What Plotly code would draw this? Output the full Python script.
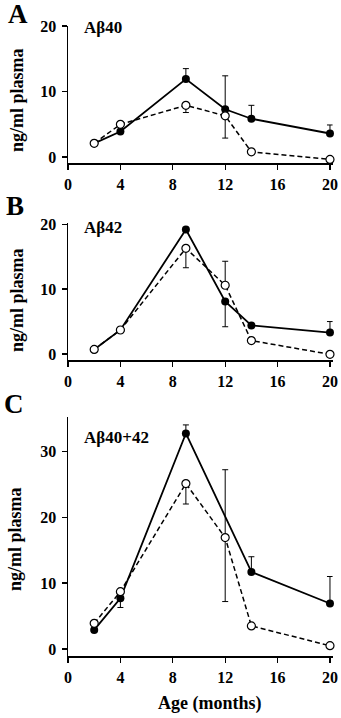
import plotly.graph_objects as go

# ---------------- data ----------------
ages = [2, 4, 9, 12, 14, 20]

# Panel A: Abeta40
a_filled = [2.1, 3.9, 11.9, 7.3, 5.85, 3.6]
a_filled_up = [0, 0, 1.6, 5.1, 2.05, 1.3]
a_filled_dn = [0, 0, 0, 0, 0, 0]
a_open = [2.1, 5.0, 7.9, 6.3, 0.8, -0.35]
a_open_up = [0, 0, 0, 0, 0, 0]
a_open_dn = [0, 0, 1.1, 3.4, 0, 0]

# Panel B: Abeta42
b_filled = [0.7, 3.7, 19.2, 8.1, 4.4, 3.3]
b_filled_up = [0, 0, 0, 0, 0, 1.7]
b_filled_dn = [0, 0, 0, 3.9, 0, 0]
b_open = [0.7, 3.7, 16.3, 10.6, 2.06, -0.05]
b_open_up = [0, 0, 0, 3.7, 0, 0]
b_open_dn = [0, 0, 3.0, 0, 0, 0]

# Panel C: Abeta40+42
c_filled = [2.9, 7.7, 32.7, None, 11.7, 6.9]
c_filled_up = [0, 0, 1.3, 0, 2.3, 4.1]
c_filled_dn = [0, 1.4, 0, 0, 0, 0]
c_open = [3.9, 8.7, 25.1, 16.9, 3.5, 0.5]
c_open_up = [0, 0, 0, 10.3, 0, 0]
c_open_dn = [0, 0, 3.1, 9.7, 0, 0]

x_ticks = [0, 4, 8, 12, 16, 20]
y_ticks_ab = [0, 10, 20]
y_ticks_c = [0, 10, 20, 30]
panel_letters = ["A", "B", "C"]
panel_titles = ["Aβ40", "Aβ42", "Aβ40+42"]
y_title = "ng/ml plasma"
x_title = "Age (months)"

# ---------------- layout helpers ----------------
W, H = 341, 718
FONT = "Liberation Serif"

def px_x(p):
    return p / W

def px_y(p):
    return 1 - p / H

fig = go.Figure()

panels = [
    (a_filled, a_filled_up, a_filled_dn, a_open, a_open_up, a_open_dn),
    (b_filled, b_filled_up, b_filled_dn, b_open, b_open_up, b_open_dn),
    (c_filled, c_filled_up, c_filled_dn, c_open, c_open_up, c_open_dn),
]

for i, (fy, fu, fd, oy, ou, od) in enumerate(panels):
    xa = "x" if i == 0 else f"x{i+1}"
    ya = "y" if i == 0 else f"y{i+1}"
    fig.add_trace(go.Scatter(
        x=ages, y=fy, xaxis=xa, yaxis=ya, mode="lines+markers",
        connectgaps=True,
        line=dict(color="black", width=1.8),
        marker=dict(symbol="circle", size=8, color="black"),
        error_y=dict(type="data", symmetric=False, array=fu, arrayminus=fd,
                     color="black", thickness=1, width=3),
        showlegend=False, cliponaxis=False, hoverinfo="skip",
    ))
    fig.add_trace(go.Scatter(
        x=ages, y=oy, xaxis=xa, yaxis=ya, mode="lines+markers",
        line=dict(color="black", width=1.5, dash="5px,3px"),
        marker=dict(symbol="circle", size=8, color="white",
                    line=dict(color="black", width=1.2)),
        error_y=dict(type="data", symmetric=False, array=ou, arrayminus=od,
                     color="black", thickness=1, width=3),
        showlegend=False, cliponaxis=False, hoverinfo="skip",
    ))

x_dom = [px_x(68), px_x(332.6)]
y_doms = [
    ([px_y(163), px_y(26)], [-0.9, 20], y_ticks_ab),
    ([px_y(360), px_y(223)], [-0.93, 20.2], y_ticks_ab),
    ([px_y(656), px_y(417)], [-1.06, 35.2], y_ticks_c),
]

axis_common = dict(
    showgrid=False, zeroline=False, showline=True, linecolor="black",
    linewidth=1.5, ticks="outside", ticklen=5, tickwidth=1.3,
    tickcolor="black", automargin=False,
    tickfont=dict(family=FONT, size=16, color="black", weight="bold"),
)

layout = dict(
    width=W, height=H, margin=dict(l=0, r=0, t=0, b=0, autoexpand=False),
    paper_bgcolor="white", plot_bgcolor="white",
    font=dict(family=FONT, color="black"),
)

for i, (ydom, yrng, yt) in enumerate(y_doms):
    xk = "xaxis" if i == 0 else f"xaxis{i+1}"
    yk = "yaxis" if i == 0 else f"yaxis{i+1}"
    ya = "y" if i == 0 else f"y{i+1}"
    xa = "x" if i == 0 else f"x{i+1}"
    layout[xk] = dict(axis_common, domain=x_dom, range=[0, 20.2],
                      tickvals=x_ticks, anchor=ya, ticklabelstandoff=1)
    layout[yk] = dict(axis_common, domain=ydom, range=yrng,
                      tickvals=yt, anchor=xa, ticklabelstandoff=2)

fig.update_layout(**layout)

annotations = []
letter_pos = [(17.5, 13.5), (15, 206), (14, 404)]
for letter, (lx, ly) in zip(panel_letters, letter_pos):
    annotations.append(dict(
        text=letter, x=px_x(lx), y=px_y(ly), xref="paper", yref="paper",
        xanchor="center", yanchor="middle", showarrow=False, borderpad=0,
        font=dict(family=FONT, size=27, color="black", weight="bold")))

title_pos = [(82, 28), (82, 228), (82, 437)]
for t, (tx, ty) in zip(panel_titles, title_pos):
    annotations.append(dict(
        text=t, x=px_x(tx), y=px_y(ty), xref="paper", yref="paper",
        xanchor="left", yanchor="middle", showarrow=False,
        font=dict(family=FONT, size=17, color="black", weight="bold")))

ytitle_pos = [(17, 100), (17, 300), (15, 539)]
for (tx, ty) in ytitle_pos:
    annotations.append(dict(
        text=y_title, x=px_x(tx), y=px_y(ty), xref="paper", yref="paper",
        xanchor="center", yanchor="middle", showarrow=False, textangle=-90,
        font=dict(family=FONT, size=18, color="black", weight="bold")))

annotations.append(dict(
    text=x_title, x=px_x(210), y=px_y(703), xref="paper", yref="paper",
    xanchor="center", yanchor="middle", showarrow=False,
    font=dict(family=FONT, size=18, color="black", weight="bold")))

fig.update_layout(annotations=annotations)

# remove the page's default 8px body margin so the figure fills the window
fig.write_html("out.html",
               config={"displayModeBar": False, "staticPlot": True},
               post_script="document.body.style.margin='0px';")
